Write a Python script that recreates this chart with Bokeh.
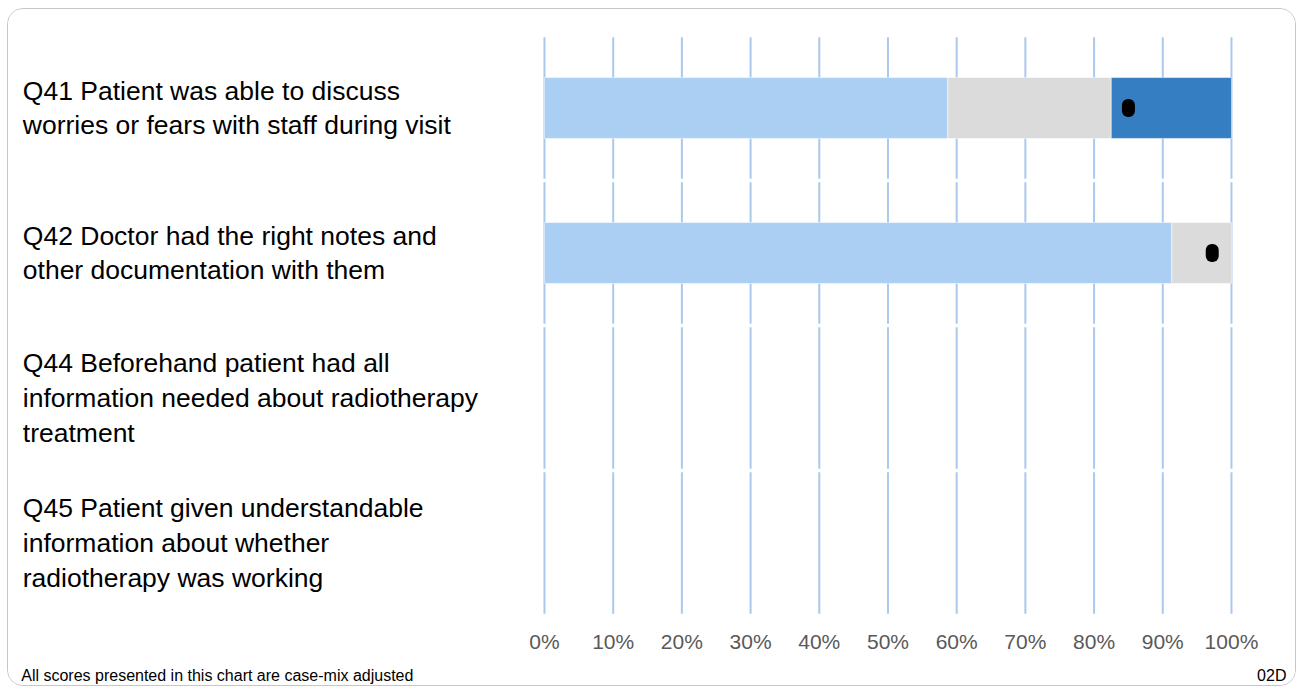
from bokeh.plotting import figure
from bokeh.models import Range1d, FixedTicker, ColumnDataSource
from bokeh.layouts import column
from bokeh.core.properties import value
from bokeh.embed import file_html
from bokeh.resources import INLINE

# ---------------- data ----------------
categories = [
    "Q41 Patient was able to discuss\nworries or fears with staff during visit",
    "Q42 Doctor had the right notes and\nother documentation with them",
    "Q44 Beforehand patient had all\ninformation needed about radiotherapy\ntreatment",
    "Q45 Patient given understandable\ninformation about whether\nradiotherapy was working",
]
seg_light = [58.7, 91.3, 0.0, 0.0]   # % in lowest band
seg_grey = [23.8, 8.7, 0.0, 0.0]     # % in middle band
seg_dark = [17.5, 0.0, 0.0, 0.0]     # % in highest band
marker_vals = [85.0, 97.2, None, None]
tick_values = [0, 10, 20, 30, 40, 50, 60, 70, 80, 90, 100]
tick_labels = ["0%", "10%", "20%", "30%", "40%", "50%", "60%", "70%", "80%", "90%", "100%"]
footnote = "All scores presented in this chart are case-mix adjusted"
chart_code = "02D"

# ---------------- styles ----------------
FONT = "Liberation Sans"
C_LIGHT = "#aacff3"
C_GREY = "#dcdbdc"
C_DARK = "#357ec2"
C_GRID = "#aac9ec"

W = 1287
H_MAIN = 650
H_FOOT = 26
X_RANGE = (-78.02, 109.32)

n = len(categories)
ys = [n - 1 - i for i in range(n)]

p = figure(width=W, height=H_MAIN,
           x_range=Range1d(*X_RANGE),
           y_range=Range1d(-0.5345, 3.6793),
           output_backend="svg", toolbar_location=None,
           y_axis_location=None,
           min_border_left=0, min_border_right=0,
           min_border_top=0, min_border_bottom=39)
p.outline_line_color = None
p.xgrid.grid_line_color = None
p.ygrid.grid_line_color = None
p.background_fill_color = "white"
p.border_fill_color = "white"

# broken vertical grid lines (one piece per category band)
g = 0.012
gx, gy0, gy1 = [], [], []
for t in tick_values:
    for y in ys:
        gx.append(t)
        gy0.append(y - 0.5 + g)
        gy1.append(y + 0.5 - g)
p.segment(x0=gx, y0=gy0, x1=gx, y1=gy1, line_color=C_GRID, line_width=2)

# stacked bars
lefts, rights, bys, cols = [], [], [], []
for i in range(n):
    start = 0.0
    for seg, col in ((seg_light[i], C_LIGHT), (seg_grey[i], C_GREY), (seg_dark[i], C_DARK)):
        if seg > 0:
            lefts.append(start)
            rights.append(start + seg)
            bys.append(ys[i])
            cols.append(col)
        start += seg
bars = ColumnDataSource(dict(left=lefts, right=rights, y=bys, color=cols))
p.hbar(y="y", left="left", right="right", height=0.42, fill_color="color",
       line_color="white", line_width=1, line_alpha=0.5, source=bars)

# score markers
mx = [v for v in marker_vals if v is not None]
my = [ys[i] for i, v in enumerate(marker_vals) if v is not None]
p.rect(x=mx, y=my, width=13, height=18, width_units="screen", height_units="screen",
       fill_color="black", line_color=None, border_radius=6)

# category labels
p.text(x=[-75.94] * n, y=ys, text=categories, text_font=value(FONT),
       text_font_size="26.5px", text_align="left", text_baseline="middle",
       text_line_height=1.16, text_color="black")

# x axis
ax = p.xaxis[0]
ax.ticker = FixedTicker(ticks=tick_values)
ax.major_label_overrides = {t: l for t, l in zip(tick_values, tick_labels)}
ax.axis_line_color = None
ax.major_tick_line_color = None
ax.minor_tick_line_color = None
ax.major_label_text_font = FONT
ax.major_label_text_font_size = "21px"
ax.major_label_text_color = "#595959"
ax.major_label_standoff = 3

# footnote strip
f = figure(width=W, height=H_FOOT,
           x_range=Range1d(*X_RANGE), y_range=Range1d(0, H_FOOT),
           output_backend="svg", toolbar_location=None,
           x_axis_location=None, y_axis_location=None,
           min_border_left=0, min_border_right=0,
           min_border_top=0, min_border_bottom=0)
f.outline_line_color = None
f.xgrid.grid_line_color = None
f.ygrid.grid_line_color = None
f.text(x=[-76.17], y=[10], text=[footnote], text_font=value(FONT),
       text_font_size="16px", text_align="left", text_baseline="middle",
       text_color="black")
f.text(x=[108.0], y=[10], text=[chart_code], text_font=value(FONT),
       text_font_size="16px", text_align="right", text_baseline="middle",
       text_color="black")

layout = column(p, f, spacing=0,
                styles={"margin-left": "7px", "margin-top": "8px",
                        "border": "1px solid #c6c6c6", "border-radius": "16px",
                        "overflow": "hidden"})

open("out.html", "w").write(file_html(layout, INLINE))
